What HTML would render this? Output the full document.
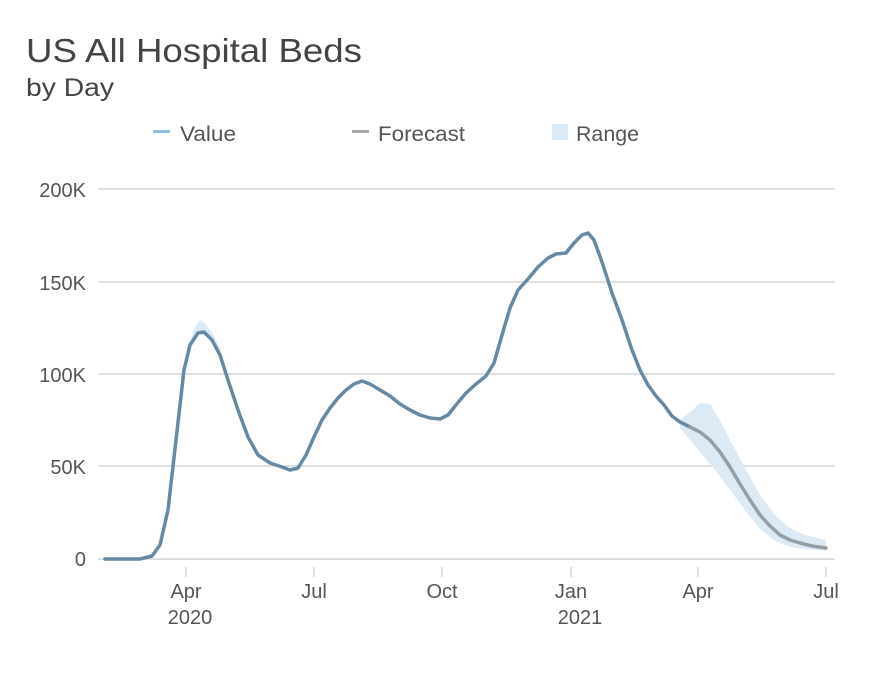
<!DOCTYPE html>
<html><head><style>
body{margin:0;background:#fff;width:888px;height:668px;overflow:hidden;font-family:"Liberation Sans",sans-serif;}
</style></head><body>
<svg width="888" height="668" xmlns="http://www.w3.org/2000/svg" font-family="Liberation Sans, sans-serif">
<text x="26" y="62" font-size="33" fill="#444" textLength="336" lengthAdjust="spacingAndGlyphs">US All Hospital Beds</text>
<text x="26" y="96" font-size="25" fill="#444" textLength="88" lengthAdjust="spacingAndGlyphs">by Day</text>
<rect x="153" y="130" width="17" height="3" fill="#8ec1e3"/>
<text x="180" y="141" font-size="21" fill="#555" textLength="56" lengthAdjust="spacingAndGlyphs">Value</text>
<rect x="352" y="130" width="17" height="3" fill="#a8a8a8"/>
<text x="378" y="141" font-size="21" fill="#555" textLength="87" lengthAdjust="spacingAndGlyphs">Forecast</text>
<rect x="552" y="124" width="16" height="16" fill="#dceaf6"/>
<text x="576" y="141" font-size="21" fill="#555" textLength="63" lengthAdjust="spacingAndGlyphs">Range</text>
<g stroke="#d6d6d6" stroke-width="1.5">
<line x1="98" y1="189" x2="835" y2="189"/><line x1="98" y1="282" x2="835" y2="282"/><line x1="98" y1="374" x2="835" y2="374"/><line x1="98" y1="466" x2="835" y2="466"/><line x1="98" y1="559" x2="835" y2="559"/>
<line x1="186" y1="567" x2="186" y2="577"/><line x1="314" y1="567" x2="314" y2="577"/><line x1="442" y1="567" x2="442" y2="577"/><line x1="571" y1="567" x2="571" y2="577"/><line x1="698" y1="567" x2="698" y2="577"/><line x1="826" y1="567" x2="826" y2="577"/>
</g>
<g font-size="20" fill="#555" text-anchor="end">
<text x="86" y="197">200K</text><text x="86" y="290">150K</text><text x="86" y="382">100K</text><text x="86" y="474">50K</text><text x="86" y="566">0</text>
</g>
<g font-size="20" fill="#555" text-anchor="middle">
<text x="186" y="598">Apr</text><text x="190" y="624">2020</text><text x="314" y="598">Jul</text><text x="442" y="598">Oct</text><text x="571" y="598">Jan</text><text x="580" y="624">2021</text><text x="698" y="598">Apr</text><text x="826" y="598">Jul</text>
</g>
<polygon fill="#dceaf6" points="188,350 194,328 200,320 206,324 214,336 222,352 214,344 206,334 198,334 192,345"/>
<polygon fill="#dceaf6" points="680,420 690,412 700,403 710,404 720,420 730,440 745,468 760,495 775,515 790,528 805,535 826,540 826,551 805,549 790,547 775,541 760,529 745,510 730,490 715,470 700,452 690,440 680,428"/>
<polyline fill="none" stroke="#668aa3" stroke-width="3.5" stroke-linejoin="round" stroke-linecap="round" points="105,559 140,559 152,556 160,545 168,510 176,440 184,370 190,345 198,333 204,332 212,340 220,355 228,380 238,410 248,437 258,455 270,463 282,467 290,470 298,468 306,455 314,437 322,420 330,408 338,398 346,390 354,384 362,381 370,384 380,390 390,396 400,404 410,410 420,415 430,418 440,419 448,415 456,405 466,393 476,384 486,376 494,363 502,335 510,308 518,290 528,279 538,267 548,258 556,254 566,253 574,243 582,235 588,233 594,240 602,262 612,293 622,320 632,350 640,370 648,385 656,396 664,405 672,416 680,422 690,427"/>
<polyline fill="none" stroke="#959ea5" stroke-width="3.5" stroke-linejoin="round" stroke-linecap="round" points="690,427 700,432 710,440 720,452 730,467 740,484 750,500 760,515 770,526 780,535 790,540 800,543 812,546 826,548"/>
</svg>
</body></html>
